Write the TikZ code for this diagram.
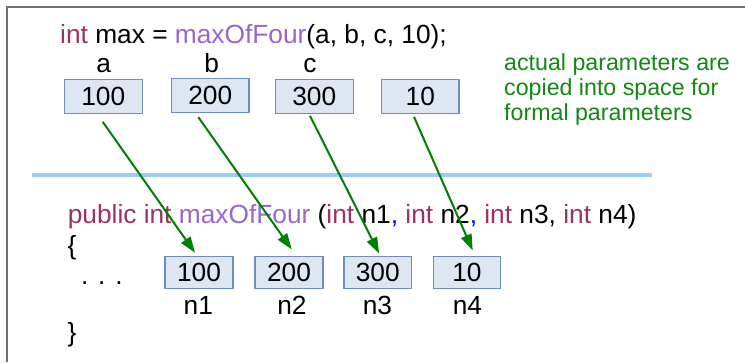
\documentclass[tikz,border=0pt]{standalone}
\usepackage{fontspec}
\setmainfont{Liberation Sans}
\usetikzlibrary{arrows.meta}
\definecolor{kw}{RGB}{153,51,102}
\definecolor{fn}{RGB}{153,102,204}
\definecolor{sep}{RGB}{153,204,255}
\definecolor{frame}{RGB}{112,112,112}
\definecolor{boxfill}{RGB}{222,230,242}
\definecolor{boxedge}{RGB}{108,142,191}
\definecolor{copygreen}{RGB}{0,128,0}
\definecolor{notegreen}{RGB}{17,136,17}
\newcommand{\kwd}[1]{\textcolor{kw}{#1}}
\newcommand{\fnm}[1]{\textcolor{fn}{#1}}
\newcommand{\bcomma}{\textcolor{blue}{,}}
\begin{document}
\begin{tikzpicture}[x=1pt,y=-1pt,
  codefont/.style={font=\fontsize{26.3}{30}\selectfont},
  code/.style={codefont, inner sep=0pt, anchor=base west},
  lbl/.style={codefont, inner sep=0pt, anchor=base},
  valbox/.style={codefont, draw=boxedge, fill=boxfill, line width=1.2pt,
    inner sep=0pt, minimum width=78pt, minimum height=34pt},
  parbox/.style={valbox, minimum width=68pt, minimum height=32pt},
  note/.style={inner sep=0pt, anchor=base west, text=notegreen,
    font=\fontsize{23.2}{25}\selectfont},
  copy/.style={draw=copygreen, line width=2pt,
    -{Triangle[length=16pt,width=11pt]}}]
\useasboundingbox (0,0) rectangle (745,362);

% frame (top and left edges)
\draw[frame, line width=2pt] (6.5,362) -- (6.5,6.5) -- (745,6.5);

% call site
\node[code] (call) at (60,43)
  {\kwd{int} max = \fnm{maxOfFour}(a, b, c, 10);};
\node[lbl] (la) at (103.7,72.5) {a};
\node[lbl] (lb) at (211.7,72.5) {b};
\node[lbl] (lc) at (310,72.5) {c};
\node[valbox] (t1) at (103.3,96.2) {100};
\node[valbox, minimum width=77.3pt] (t2) at (210.3,95.8) {200};
\node[valbox] (t3) at (314.3,96.2) {300};
\node[valbox, minimum width=77.3pt] (t4) at (420.3,96.2) {10};

% explanation
\node[note] (g1) at (504,70) {actual parameters are};
\node[note] (g2) at (504,95) {copied into space for};
\node[note] (g3) at (504,120) {formal parameters};

% separator
\draw[sep, line width=4pt] (32,174.5) -- (652,174.5);

% method definition
\node[code] (def) at (67.6,223.3)
  {\kwd{public int} \fnm{maxOfFour} (\kwd{int} n1\bcomma{} \kwd{int} n2\bcomma{} \kwd{int} n3, \kwd{int} n4)};
\node[code] (open) at (67.5,254) {\{};
\node[code] (dots) at (81,284) {. . .};
\node[code] (close) at (67.5,341) {\}};
\node[parbox] (b1) at (199,272.5) {100};
\node[parbox] (b2) at (289,272.5) {200};
\node[parbox, minimum width=67.7pt] (b3) at (377.8,272.5) {300};
\node[parbox, minimum width=67.4pt] (b4) at (467,272.5) {10};
\node[lbl] (n1) at (198.3,314) {n1};
\node[lbl] (n2) at (292,314) {n2};
\node[lbl] (n3) at (377.5,314) {n3};
\node[lbl] (n4) at (467.5,314) {n4};

% copying the values
\draw[copy] ([xshift=-0.6pt,yshift=-8pt]t1.south) -- ([xshift=-4pt,yshift=3.2pt]b1.north);
\draw[copy] ([xshift=-12pt,yshift=-3.7pt]t2.south) -- ([xshift=2.7pt,yshift=6.5pt]b2.north);
\draw[copy] ([xshift=-4.3pt,yshift=-2pt]t3.south) -- ([xshift=1.3pt,yshift=2.5pt]b3.north);
\draw[copy] ([xshift=-6.3pt,yshift=-3pt]t4.south) -- ([xshift=5.7pt,yshift=5.5pt]b4.north);
\end{tikzpicture}
\end{document}
